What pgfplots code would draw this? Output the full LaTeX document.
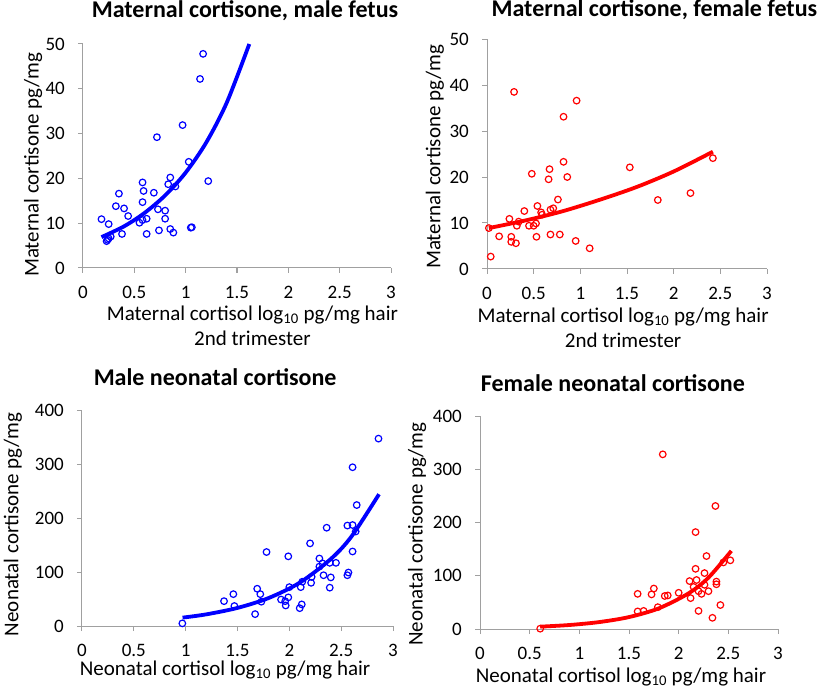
\documentclass[border=0pt]{standalone}
\usepackage{fontspec}
\setmainfont{Carlito}
\usepackage{pgfplots}
\pgfplotsset{compat=1.18}
\definecolor{axgray}{RGB}{160,160,160}
\definecolor{pblue}{RGB}{0,0,255}
\definecolor{pred}{RGB}{255,0,0}
\pgfplotsset{
  panel/.style={
    scale only axis,
    axis lines=left,
    axis line style={-,axgray,line width=1pt},
    major tick style={axgray,line width=1pt},
    tick align=outside,
    major tick length=5pt,
    xmin=0,xmax=3,ymin=0,
    xtick={0,0.5,1,1.5,2,2.5,3},
    xticklabels={0,0.5,1,1.5,2,2.5,3},
    tick label style={font=\fontsize{19}{22}\selectfont,black,inner sep=0pt},
    xticklabel style={yshift=-13pt},
    yticklabel style={xshift=-13pt},
    /pgf/number format/assume math mode=true,
    label style={font=\fontsize{21}{25}\selectfont,black,inner sep=0pt},
    title style={font=\fontsize{24}{28}\selectfont\bfseries,anchor=center,inner sep=0pt},
    clip=false,
  },
  pts/.style={only marks,mark=o,mark size=3.3pt,line width=1.2pt},
  fit/.style={no marks,smooth,line width=3.8pt},
}
\begin{document}
\begin{tikzpicture}
\useasboundingbox (0pt,0pt) rectangle (825pt,-692pt);
% ---------- panel 1 ----------
\begin{axis}[panel,
  at={(83pt,-268pt)},anchor=south west,width=308pt,height=224pt,
  ymax=50,ytick={0,10,20,30,40,50},yticklabels={0,10,20,30,40,50},
  title={Maternal cortisone, male fetus},
  title style={at={(axis description cs:0.526,1.12)}},
  ylabel={Maternal cortisone pg/mg},
  ylabel style={at={(axis description cs:-0.162,0.46)},anchor=center},
  xlabel={Maternal cortisol log\textsubscript{10} pg/mg hair\\2nd trimester},
  xlabel style={at={(axis description cs:0.55,-0.258)},anchor=center,align=center},
]
\addplot[pts,pblue] coordinates {
(0.18,10.9)(0.25,9.8)(0.23,6.0)(0.24,6.3)(0.25,6.6)(0.27,7.0)
(0.32,13.8)(0.35,16.6)(0.38,7.6)(0.40,13.3)(0.44,11.6)(0.55,10.1)
(0.58,10.7)(0.58,19.1)(0.59,17.2)(0.58,14.7)(0.62,11.0)(0.62,7.6)
(0.69,16.8)(0.72,29.2)(0.73,13.1)(0.74,8.4)(0.80,12.8)(0.80,11.0)
(0.83,18.7)(0.85,20.2)(0.90,18.2)(0.85,8.7)(0.88,7.9)(0.97,31.9)
(1.03,23.7)(1.05,9.0)(1.06,9.1)(1.14,42.2)(1.17,47.8)(1.22,19.4)};
\addplot[fit,pblue] coordinates {
(0.18,6.9)(0.4,9.3)(0.6,12.3)(0.8,16.2)(1.0,21.3)(1.2,28.0)(1.4,36.9)(1.62,50)};
\end{axis}
% ---------- panel 2 ----------
\begin{axis}[panel,
  at={(487pt,-269pt)},anchor=south west,width=280pt,height=230pt,
  ymax=50,ytick={0,10,20,30,40,50},yticklabels={0,10,20,30,40,50},
  title={Maternal cortisone, female fetus},
  title style={at={(axis description cs:0.598,1.1)}},
  ylabel={Maternal cortisone pg/mg},
  ylabel style={at={(axis description cs:-0.186,0.487)},anchor=center},
  xlabel={Maternal cortisol log\textsubscript{10} pg/mg hair\\2nd trimester},
  xlabel style={at={(axis description cs:0.486,-0.254)},anchor=center,align=center},
]
\addplot[pts,pred] coordinates {
(0.02,8.9)(0.04,2.7)(0.13,7.1)(0.24,10.9)(0.26,7.0)(0.26,5.9)
(0.29,38.5)(0.31,5.6)(0.32,9.4)(0.34,10.3)(0.40,12.6)(0.45,9.4)
(0.48,20.7)(0.50,9.4)(0.525,9.9)(0.53,7.0)(0.54,13.7)(0.58,12.3)
(0.59,11.8)(0.66,19.5)(0.67,21.7)(0.68,12.9)(0.71,13.2)(0.68,7.5)
(0.76,15.1)(0.78,7.5)(0.82,33.1)(0.82,23.3)(0.86,20.0)(0.95,6.1)
(0.96,36.6)(1.10,4.5)(1.53,22.1)(1.83,15.0)(2.18,16.5)(2.42,24.1)};
\addplot[fit,pred] coordinates {
(0.02,8.9)(0.4,10.5)(0.8,12.5)(1.2,15.0)(1.6,17.8)(2.0,21.2)(2.42,25.5)};
\end{axis}
% ---------- panel 3 ----------
\begin{axis}[panel,
  at={(82pt,-626pt)},anchor=south west,width=311pt,height=216pt,
  ymax=400,ytick={0,100,200,300,400},yticklabels={0,100,200,300,400},
  title={Male neonatal cortisone},
  title style={at={(axis description cs:0.428,1.125)}},
  ylabel={Neonatal cortisone pg/mg},
  ylabel style={at={(axis description cs:-0.222,0.47)},anchor=center},
  xlabel={Neonatal cortisol log\textsubscript{10} pg/mg hair},
  xlabel style={at={(axis description cs:0.46,-0.204)},anchor=center},
]
\addplot[pts,pblue] coordinates {
(0.968,4.9)(1.37,46)(1.46,59)(1.47,37)(1.67,22)(1.69,69)(1.72,59)
(1.73,45)(1.78,137)(1.92,49)(1.96,46)(1.965,38)(1.99,129)(1.99,53)
(2.0,72)(2.10,33)(2.12,40)(2.11,72)(2.125,82)(2.20,153)(2.21,80)
(2.215,91)(2.29,125)(2.29,110)(2.33,94)(2.32,116)(2.36,182)(2.39,71)
(2.40,90)(2.39,117)(2.45,117)(2.56,94)(2.57,99)(2.56,186)(2.61,187)
(2.61,138)(2.61,294)(2.64,175)(2.65,224)(2.86,347)};
\addplot[fit,pblue] coordinates {
(0.97,15.5)(1.2,21.6)(1.5,33.5)(1.8,51.8)(2.1,80.2)(2.4,124.1)(2.6,165.9)(2.865,244)};
\end{axis}
% ---------- panel 4 ----------
\begin{axis}[panel,
  at={(480pt,-629pt)},anchor=south west,width=298pt,height=213pt,
  ymax=400,ytick={0,100,200,300,400},yticklabels={0,100,200,300,400},
  title={Female neonatal cortisone},
  title style={at={(axis description cs:0.446,1.127)}},
  ylabel={Neonatal cortisone pg/mg},
  ylabel style={at={(axis description cs:-0.211,0.446)},anchor=center},
  xlabel={Neonatal cortisol log\textsubscript{10} pg/mg hair},
  xlabel style={at={(axis description cs:0.473,-0.226)},anchor=center},
]
\addplot[pts,pred] coordinates {
(0.606,0.6)(1.587,66)(1.587,33)(1.647,34)(1.727,65)(1.75,76)(1.79,41)
(1.86,62)(1.89,63)(1.84,328)(2.0,68)(2.11,90)(2.12,58)(2.15,79)
(2.17,182)(2.17,113)(2.18,92)(2.20,34)(2.20,71)(2.23,66)(2.26,105)
(2.26,83)(2.28,137)(2.30,71)(2.34,21)(2.37,231)(2.38,89)(2.38,84)
(2.42,45)(2.45,125)(2.52,129)};
\addplot[fit,pred] coordinates {
(0.606,4.4)(0.9,7.5)(1.2,13.0)(1.5,22.4)(1.8,38.8)(2.1,67.0)(2.3,96.5)(2.53,146.7)};
\end{axis}
\end{tikzpicture}
\end{document}
